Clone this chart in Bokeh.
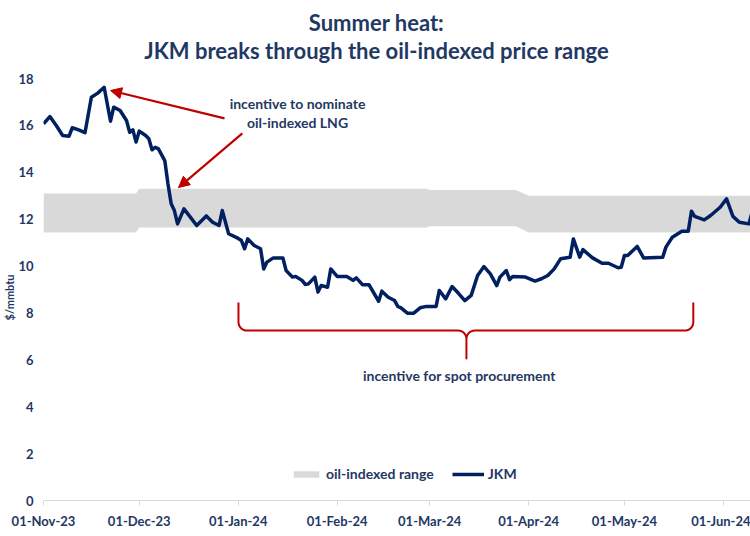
import numpy as np
import pandas as pd
from bokeh.plotting import figure
from bokeh.models import (Range1d, FixedTicker, DatetimeTickFormatter, Legend, LegendItem,
                          Label, Arrow, NormalHead, Title, ColumnDataSource)
from bokeh.embed import file_html
from bokeh.resources import INLINE

# ---------------- data ----------------
jkm_dates = [
    "2023-11-01", "2023-11-03", "2023-11-05", "2023-11-07", "2023-11-09", "2023-11-10",
    "2023-11-12", "2023-11-14", "2023-11-16", "2023-11-18", "2023-11-20", "2023-11-22",
    "2023-11-23", "2023-11-25", "2023-11-27", "2023-11-28", "2023-11-29", "2023-11-30",
    "2023-12-01", "2023-12-03", "2023-12-04", "2023-12-05", "2023-12-06", "2023-12-07",
    "2023-12-09", "2023-12-10", "2023-12-11", "2023-12-12", "2023-12-13", "2023-12-15",
    "2023-12-17", "2023-12-19", "2023-12-22", "2023-12-24", "2023-12-26", "2023-12-27",
    "2023-12-29",
    "2024-01-01", "2024-01-02", "2024-01-03", "2024-01-04", "2024-01-06", "2024-01-08",
    "2024-01-09", "2024-01-10", "2024-01-12", "2024-01-15", "2024-01-16", "2024-01-18",
    "2024-01-19", "2024-01-21", "2024-01-22", "2024-01-23", "2024-01-25", "2024-01-26",
    "2024-01-27", "2024-01-29", "2024-01-30",
    "2024-02-01", "2024-02-04", "2024-02-06", "2024-02-07", "2024-02-09", "2024-02-11",
    "2024-02-14", "2024-02-15", "2024-02-17", "2024-02-19", "2024-02-20", "2024-02-21",
    "2024-02-23", "2024-02-25", "2024-02-27", "2024-02-29",
    "2024-03-03", "2024-03-04", "2024-03-06", "2024-03-08", "2024-03-10", "2024-03-12",
    "2024-03-14", "2024-03-16", "2024-03-18", "2024-03-20", "2024-03-22", "2024-03-23",
    "2024-03-25", "2024-03-26", "2024-03-27", "2024-03-31",
    "2024-04-03", "2024-04-05", "2024-04-07", "2024-04-09", "2024-04-11", "2024-04-14",
    "2024-04-15", "2024-04-17", "2024-04-18", "2024-04-21", "2024-04-24", "2024-04-26",
    "2024-04-29", "2024-04-30",
    "2024-05-01", "2024-05-02", "2024-05-05", "2024-05-07", "2024-05-13", "2024-05-14",
    "2024-05-16", "2024-05-19", "2024-05-21", "2024-05-22", "2024-05-23", "2024-05-26",
    "2024-05-28", "2024-05-31",
    "2024-06-02", "2024-06-04", "2024-06-06", "2024-06-09", "2024-06-10", "2024-06-11",
]
jkm_values = [
    16.07, 16.38, 16.00, 15.57, 15.54, 15.90, 15.81, 15.69, 17.20, 17.38, 17.63, 16.18,
    16.78, 16.64, 16.21, 15.71, 15.81, 15.29,
    15.76, 15.57, 15.43, 14.96, 15.07, 15.00, 14.50, 13.50, 12.66, 12.37, 11.80, 12.44,
    12.09, 11.73, 12.14, 11.87, 11.73, 12.37, 11.38,
    11.18, 11.09, 10.74, 11.16, 10.88, 10.74, 9.88, 10.17, 10.35, 10.35, 9.81, 9.53,
    9.56, 9.39, 9.22, 9.24, 9.53, 8.89, 9.17, 9.10, 9.88,
    9.56, 9.56, 9.39, 9.50, 9.20, 9.20, 8.50, 8.93, 8.67, 8.53, 8.28, 8.22,
    7.99, 7.99, 8.22, 8.28,
    8.28, 8.96, 8.60, 9.13, 8.84, 8.53, 8.75, 9.60, 9.98, 9.67, 9.17, 9.53,
    9.81, 9.42, 9.56, 9.53,
    9.36, 9.46, 9.60, 9.88, 10.31, 10.38, 11.16, 10.38, 10.70, 10.35, 10.12, 10.12,
    9.93, 9.95,
    10.45, 10.45, 10.84, 10.35, 10.38, 10.81, 11.23, 11.49, 11.49, 12.34, 12.12, 11.97,
    12.16, 12.51,
    12.87, 12.12, 11.87, 11.80, 12.30, 12.50,
]

band_dates = ["2023-11-01", "2023-11-30", "2023-12-01", "2024-02-29", "2024-03-01",
              "2024-03-28", "2024-04-01", "2024-06-30"]
band_low = [11.43, 11.43, 11.65, 11.65, 11.70, 11.70, 11.43, 11.43]
band_high = [13.10, 13.10, 13.30, 13.30, 13.25, 13.25, 13.00, 13.00]

x_tick_dates = ["2023-11-01", "2023-12-01", "2024-01-01", "2024-02-01", "2024-03-01",
                "2024-04-01", "2024-05-01", "2024-06-01"]
y_ticks = [0, 2, 4, 6, 8, 10, 12, 14, 16, 18]

title_line1 = "Summer heat:"
title_line2 = "JKM breaks through the oil-indexed price range"
y_label = "$/mmbtu"
note_top = ["incentive to nominate", "oil-indexed LNG"]
note_bottom = "incentive for spot procurement"
legend_labels = ["oil-indexed range", "JKM"]

# ---------------- styling ----------------
TEXT = "#1F3864"
LINE = "#002060"
BAND = "#D9D9D9"
RED = "#C00000"
FONT = "Lato"
DAY = 86400000.0


def ms(s):
    return pd.Timestamp(s).value / 1e6


jkm_src = ColumnDataSource(dict(date=[ms(d) for d in jkm_dates], value=jkm_values))
band_src = ColumnDataSource(dict(date=[ms(d) for d in band_dates], low=band_low, high=band_high))

# the (invisible) frame reaches the top edge so the two title lines can sit inside it
p = figure(width=750, height=536, x_axis_type="datetime",
           output_backend="svg", toolbar_location=None,
           x_range=Range1d(ms("2023-11-01"), ms("2024-06-09 12:00")),
           y_range=Range1d(0, 21.33),
           min_border_left=43, min_border_right=0, min_border_top=0, min_border_bottom=36)
p.outline_line_color = None
p.xgrid.grid_line_color = None
p.ygrid.grid_line_color = None
p.background_fill_color = "white"
p.border_fill_color = "white"

# glyphs
band_r = p.varea(x="date", y1="low", y2="high", source=band_src, fill_color=BAND)
line_r = p.line(x="date", y="value", source=jkm_src, line_color=LINE, line_width=3.5,
                line_join="round")

# axes
xa = p.xaxis[0]
xa.ticker = FixedTicker(ticks=[ms(d) for d in x_tick_dates])
fmt = "%d-%b-%y"
xa.formatter = DatetimeTickFormatter(microseconds=fmt, milliseconds=fmt, seconds=fmt, minsec=fmt,
                                     minutes=fmt, hourmin=fmt, hours=fmt, days=fmt,
                                     months=fmt, years=fmt)
xa.axis_line_color = "#D9D9D9"
xa.major_tick_line_color = "#D9D9D9"
xa.major_tick_out = 5
xa.major_tick_in = 0
xa.minor_tick_line_color = None
xa.major_label_standoff = 7
xa.major_label_text_font = FONT
xa.major_label_text_font_style = "bold"
xa.major_label_text_font_size = "13px"
xa.major_label_text_color = TEXT

ya = p.yaxis[0]
ya.ticker = FixedTicker(ticks=y_ticks)
ya.axis_line_color = None
ya.major_tick_line_color = None
ya.minor_tick_line_color = None
ya.major_tick_out = 0
ya.major_tick_in = 0
ya.major_label_standoff = 10
ya.major_label_text_font = FONT
ya.major_label_text_font_style = "bold"
ya.major_label_text_font_size = "13px"
ya.major_label_text_color = TEXT

# y-axis title at the far left, placed low like the reference
p.add_layout(Title(text=y_label, align="left", offset=180, standoff=0,
                   text_font=FONT, text_font_style="bold", text_font_size="11px",
                   text_color=TEXT), "left")

# titles (two centred lines)
title_style = dict(x_units="screen", y_units="screen", text_font=FONT, text_font_style="bold",
                   text_font_size="22px", text_color=TEXT, text_align="center",
                   text_baseline="middle")
p.add_layout(Label(x=333, y=478, text=title_line1, **title_style))
p.add_layout(Label(x=333, y=450, text=title_line2, **title_style))

# legend
legend = Legend(items=[LegendItem(label=legend_labels[0], renderers=[band_r]),
                       LegendItem(label=legend_labels[1], renderers=[line_r])],
                orientation="horizontal", location=(247, 18),
                label_text_font=FONT, label_text_font_style="bold", label_text_font_size="14px",
                label_text_color=TEXT, glyph_width=32, glyph_height=8, label_standoff=4,
                spacing=18, padding=0, margin=0, border_line_color=None,
                background_fill_alpha=0)
p.add_layout(legend, "center")

# annotations: text
note_style = dict(text_font=FONT, text_font_style="bold", text_font_size="14px",
                  text_color=TEXT, text_align="center", text_baseline="middle")
p.add_layout(Label(x=ms("2024-01-19 14:00"), y=16.94, text=note_top[0], **note_style))
p.add_layout(Label(x=ms("2024-01-19 14:00"), y=16.13, text=note_top[1], **note_style))
p.add_layout(Label(x=ms("2024-03-10 07:00"), y=5.33, text=note_bottom, **note_style))

# arrows
for (xs, ys, xe, ye) in [(ms("2023-12-27 17:00"), 16.30, ms("2023-11-22"), 17.49),
                         (ms("2024-01-02 07:00"), 15.66, ms("2023-12-13 07:00"), 13.35)]:
    p.add_layout(Arrow(x_start=xs, y_start=ys, x_end=xe, y_end=ye, line_color=RED,
                       line_width=2.2,
                       end=NormalHead(size=11, fill_color=RED, line_color=RED)))

# curly brace under the low-price period
L, R, C = ms("2024-01-01 02:00"), ms("2024-05-22 14:00"), ms("2024-03-12 12:00")
top, h, tip = 8.45, 7.25, 6.06
rx, ry = 2.6 * DAY, 0.36


def arc(cx, cy, a0, a1, n=10):
    t = np.linspace(a0, a1, n)
    return list(cx + rx * np.cos(t)), list(cy + ry * np.sin(t))


bx, by = [L], [top]
ax_, ay_ = arc(L + rx, h + ry, np.pi, 1.5 * np.pi); bx += ax_; by += ay_
ax_, ay_ = arc(C - rx, h - ry, 0.5 * np.pi, 0.0); bx += ax_; by += ay_
bx += [C, C]; by += [tip, h - ry]
ax_, ay_ = arc(C + rx, h - ry, np.pi, 0.5 * np.pi); bx += ax_; by += ay_
ax_, ay_ = arc(R - rx, h + ry, 1.5 * np.pi, 2 * np.pi); bx += ax_; by += ay_
bx += [R]; by += [top]
p.line(bx, by, line_color=RED, line_width=2, line_join="round")

open("out.html", "w").write(file_html(p, INLINE))
